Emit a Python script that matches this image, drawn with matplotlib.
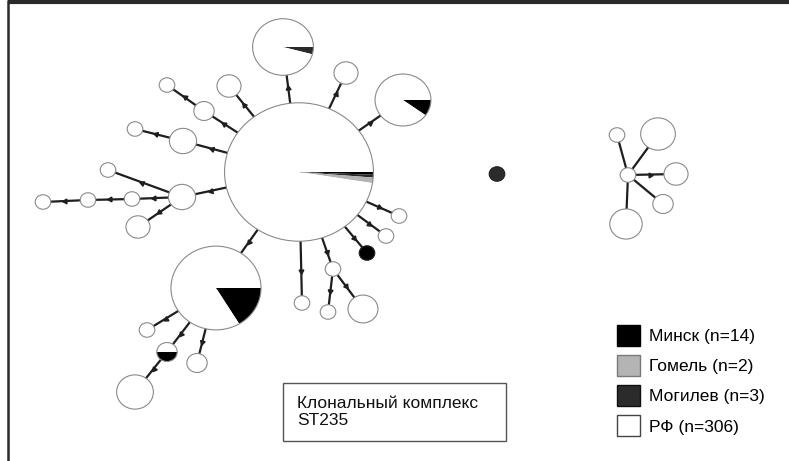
import numpy as np
import matplotlib
matplotlib.use("Agg")
import matplotlib.pyplot as plt
from matplotlib.patches import Circle, Rectangle, Patch
from matplotlib.markers import MarkerStyle

plt.rcParams['font.family'] = ['Liberation Sans', 'DejaVu Sans']

# isolate counts per ST node: Минск, Гомель, Могилев, РФ
minsk   = [1, 0, 2, 9, 0, 0, 0, 0, 0, 0, 0, 0, 0, 0, 0, 0, 0, 0, 1, 0, 0, 0, 0, 0, 1, 0, 0, 0, 0, 0, 0, 0, 0, 0]
gomel   = [2, 0, 0, 0, 0, 0, 0, 0, 0, 0, 0, 0, 0, 0, 0, 0, 0, 0, 0, 0, 0, 0, 0, 0, 0, 0, 0, 0, 0, 0, 0, 0, 0, 0]
mogilev = [1, 1, 0, 0, 0, 0, 0, 0, 0, 0, 0, 0, 0, 0, 0, 0, 0, 0, 0, 0, 0, 0, 0, 0, 0, 0, 0, 1, 0, 0, 0, 0, 0, 0]
rf      = [152, 23, 18, 46, 3, 3, 1, 2, 1, 4, 1, 4, 1, 1, 1, 3, 1, 1, 0, 1, 1, 1, 5, 1, 1, 2, 8, 0, 1, 1, 7, 3, 2, 6]

# links of the minimum spanning tree
edges = [(0, 1), (0, 4), (0, 5), (0, 7), (7, 6), (0, 9), (9, 8), (0, 11), (11, 10),
         (11, 12), (12, 13), (13, 14), (11, 15), (0, 2), (0, 16), (0, 17), (0, 18),
         (0, 19), (0, 20), (20, 21), (20, 22), (0, 3), (3, 23), (3, 24), (24, 26),
         (3, 25), (28, 29), (28, 30), (28, 31), (28, 32), (28, 33)]

group_names = ['Минск (n=14)', 'Гомель (n=2)', 'Могилев (n=3)', 'РФ (n=306)']

# layout of the nodes (pixels, y downwards)
node_x = [299, 283, 403, 216, 346, 229, 167, 204, 135, 183, 108, 182, 132, 88, 43, 138,
          399, 386, 367, 302, 333, 328, 363, 147, 167, 197, 135, 497, 628, 617, 658, 676, 663, 626]
node_y = [172, 47, 100, 288, 73, 86, 85, 111, 129, 141, 170, 197, 199, 200, 202, 227,
          216, 236, 253, 303, 269, 312, 309, 330, 352, 363, 392, 174, 175, 135, 134, 174, 204, 224]
plain_edges = {(28, 29), (28, 30), (28, 32), (28, 33)}

W, H = 789, 461
SQ = 0.93          # the scan is slightly wider than tall
R_MIN, R_STEP = 2.0, 5.8

# wedge order on the pies: Минск, Могилев, Гомель, РФ
colors = ['#000000', '#b4b4b4', '#2b2b2b', '#ffffff']
edge_cols = ['#000000', '#7a7a7a', '#111111', '#444444']
pie_order = [0, 2, 1, 3]

counts = np.array([minsk, gomel, mogilev, rf]).T
sizes = counts.sum(axis=1)
radii = R_MIN + R_STEP * np.sqrt(sizes)

fig = plt.figure(figsize=(W / 100, H / 100), dpi=100)
ax = fig.add_axes([0, 0, 1, 1])


def sy(y):
    return y / SQ


# links, with a small arrow tick in the middle
for a, b in edges:
    x1, y1, x2, y2 = node_x[a], node_y[a], node_x[b], node_y[b]
    ax.plot([x1, x2], [sy(y1), sy(y2)], color='#1e1e1e', lw=1.6, zorder=1,
            solid_capstyle='butt')
    if (a, b) in plain_edges:
        continue
    d = np.hypot(x2 - x1, y2 - y1)
    ux, uy = (x2 - x1) / d, (y2 - y1) / d
    t = (radii[a] + (d - radii[b])) / 2
    mx, my = x1 + ux * t, y1 + uy * t
    ang = np.degrees(np.arctan2(-(y2 - y1), x2 - x1)) - 90
    ax.plot(mx, sy(my), marker=MarkerStyle((3, 0, ang)), ms=4, color='#1e1e1e',
            zorder=1.5)

# nodes as pies
for i in range(len(node_x)):
    c = (node_x[i], sy(node_y[i]))
    vals = counts[i][pie_order]
    cols = [colors[k] for k in pie_order]
    keep = vals > 0
    ax.pie(vals[keep], colors=[col for col, k in zip(cols, keep) if k], center=c,
           radius=radii[i], startangle=0, counterclock=True, frame=True,
           wedgeprops=dict(linewidth=0, zorder=2))
    dark = counts[i][3] == 0
    ax.add_patch(Circle(c, radii[i], fill=False, lw=0.8, zorder=3,
                        ec='#222222' if dark else '#8a8a8a'))

ax.set_aspect('auto')
ax.set_xlim(0, W)
ax.set_ylim(sy(H), 0)
ax.axis('off')

# scan frame: heavy top rule and left rule
ax.plot([8 / W, 1], [1 - 2 / H, 1 - 2 / H], transform=ax.transAxes, color='#2a2a2a',
        lw=3, clip_on=False, solid_capstyle='butt')
ax.plot([8 / W, 8 / W], [0, 1], transform=ax.transAxes, color='#2a2a2a', lw=1.8,
        clip_on=False, solid_capstyle='butt')

# title box
ax.add_patch(Rectangle((283 / W, 1 - 441 / H), 223 / W, 58 / H, transform=ax.transAxes,
                       fill=False, ec='#555555', lw=1))
ax.text(297 / W, 1 - 412 / H, 'Клональный комплекс\nST235', transform=ax.transAxes,
        ha='left', va='center', fontsize=12.5, linespacing=1.1, color='#111111')

handles = [Patch(facecolor=fc, edgecolor=ec, lw=1) for fc, ec in zip(colors, edge_cols)]
ax.legend(handles, group_names, loc='upper left', bbox_to_anchor=(617 / W, 1 - 325 / H),
          frameon=False, fontsize=12.5, borderpad=0, borderaxespad=0,
          handlelength=1.3, handleheight=1.45, handletextpad=0.55, labelspacing=0.55)

fig.savefig('out.png', dpi=100)
